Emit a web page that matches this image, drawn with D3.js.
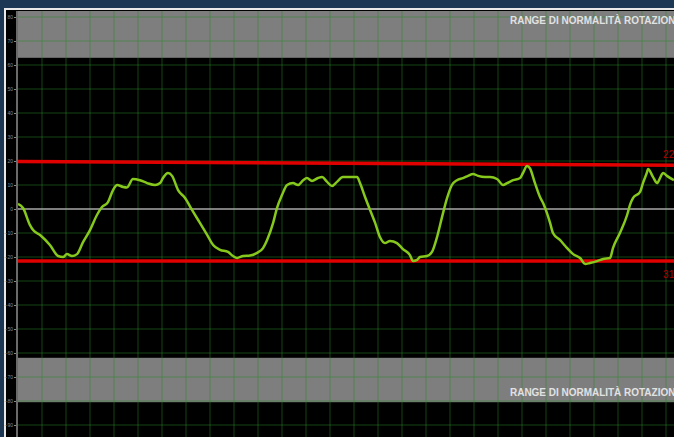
<!DOCTYPE html>
<html>
<head>
<meta charset="utf-8">
<script src="https://cdn.jsdelivr.net/npm/d3@7"></script>
<style>
  html,body{margin:0;padding:0;background:#1b3754;overflow:hidden}
  svg{display:block}
</style>
</head>
<body>
<div class="chart"></div>
<script>
// time in seconds (one grid square = 1 s), rotation in degrees
const timeSec = [0,0.21,0.5,0.63,0.92,1.33,1.67,1.88,2.04,2.25,2.46,2.71,3.0,3.29,3.5,3.75,3.96,4.13,4.38,4.54,4.79,5.08,5.38,5.71,5.92,6.04,6.25,6.42,6.67,6.96,7.25,7.58,7.88,8.13,8.42,8.75,8.96,9.13,9.38,9.67,9.96,10.21,10.38,10.63,10.79,11.0,11.21,11.46,11.67,11.88,12.04,12.25,12.5,12.67,12.88,13.08,13.29,13.54,13.83,14.13,14.25,14.46,14.67,14.88,15.08,15.29,15.5,15.79,16.04,16.33,16.46,16.63,16.75,17.04,17.25,17.46,17.67,17.88,18.08,18.29,18.54,18.75,18.96,19.17,19.46,19.67,19.96,20.21,20.38,20.63,20.92,21.04,21.21,21.33,21.54,21.75,21.88,22.04,22.17,22.29,22.58,22.88,23.13,23.42,23.63,23.83,24.13,24.38,24.67,24.79,25.08,25.38,25.5,25.63,25.92,26.04,26.21,26.25,26.46,26.63,26.75,26.88,27.04,27.33]
const rotation = [2.1,0.4,-6.7,-8.8,-10.8,-15,-19.6,-20,-18.8,-19.6,-18.8,-13.8,-8.8,-2.5,0.8,2.9,7.9,10,9.2,9,12.5,12,10.8,10,10.8,12.9,15,13.8,7.9,4.6,-0.4,-5.8,-10.8,-15,-17,-17.9,-19.6,-20.4,-19.6,-19.4,-18.3,-16.3,-12.9,-5.8,0.4,5.8,10,10.8,10,12,12.9,11.7,12.9,13.3,11.3,9.6,11.3,13.3,13.3,13.3,10.8,5,-0.4,-5.8,-11.7,-14.2,-13.3,-14.2,-16.7,-19.2,-21.7,-21.2,-20,-19.6,-17.9,-11.7,-3.3,4.6,10,12,12.9,13.8,14.6,13.8,13.3,13.3,12.5,10,10.8,12,12.9,15,17.9,17,10.8,5,2.5,-1.7,-5.8,-10,-12.9,-16.3,-18.8,-20.4,-22.9,-22.5,-21.7,-20.8,-20.4,-16.3,-10,-2.5,1.7,4.6,7.1,10.8,15.4,16.7,13.3,10.8,12.9,15,13.8,12]

const yTicks = [80,70,60,50,40,30,20,10,0,-10,-20,-30,-40,-50,-60,-70,-80,-90]
const upperLimit = [[0,19.8],[28,18.2]]
const lowerLimit = [[0,-21.7],[28,-21.7]]
const limitLabels = ["22","31"]
const bands = [[63,82.5],[-80.5,-62]]
const bandLabel = "RANGE DI NORMALITÀ ROTAZIONE"

const w = 674
const h = 437
const plotLeft = 18
const plotTop = 11

const xScale = d3.scaleLinear().domain([0,28]).range([plotLeft,plotLeft+28*24])
const yScale = d3.scaleLinear().domain([-90,80]).range([425,17])

const svg = d3.select(".chart").append("svg").attr("width",w).attr("height",h)

svg.append("rect").attr("width",w).attr("height",h).attr("fill","#1b3754")
svg.append("rect").attr("x",4).attr("y",8).attr("width",w).attr("height",h).attr("fill","#e8e8e8")
svg.append("rect").attr("x",6).attr("y",10).attr("width",w).attr("height",h).attr("fill","#000")

svg.append("clipPath").attr("id","plot")
  .append("rect").attr("x",plotLeft).attr("y",plotTop).attr("width",w).attr("height",h)

const plot = svg.append("g").attr("clip-path","url(#plot)")

// grey normality bands
plot.selectAll("rect.band")
  .data(bands)
  .enter()
  .append("rect")
  .attr("class","band")
  .attr("x",plotLeft)
  .attr("width",w)
  .attr("y",d=>yScale(d[1]))
  .attr("height",d=>yScale(d[0])-yScale(d[1]))
  .attr("fill","#7e7e7e")

// grid
plot.selectAll("line.vgrid")
  .data(d3.range(1,29))
  .enter()
  .append("line")
  .attr("x1",d=>xScale(d)).attr("x2",d=>xScale(d))
  .attr("y1",plotTop).attr("y2",h)
  .attr("stroke","#2a8a2a").attr("stroke-opacity",0.5).attr("stroke-width",1)

plot.selectAll("line.hgrid")
  .data(yTicks.filter(d=>d!==0))
  .enter()
  .append("line")
  .attr("x1",plotLeft).attr("x2",w)
  .attr("y1",d=>yScale(d)).attr("y2",d=>yScale(d))
  .attr("stroke","#2a8a2a").attr("stroke-opacity",0.5).attr("stroke-width",1)

plot.append("line")
  .attr("x1",plotLeft).attr("x2",w)
  .attr("y1",yScale(0)).attr("y2",yScale(0))
  .attr("stroke","#a8a8a8").attr("stroke-width",1.5)

// band labels (cut by the right edge, as in the source screen)
plot.selectAll("text.band")
  .data([bands[0][1]-5.4, bands[1][0]+2.4])
  .enter()
  .append("text")
  .attr("x",xScale(20.5))
  .attr("y",d=>yScale(d))
  .attr("fill","#e2e2e2")
  .attr("font-family","'Liberation Sans',sans-serif")
  .attr("font-weight","bold")
  .attr("font-size","10px")
  .attr("textLength",172)
  .attr("lengthAdjust","spacingAndGlyphs")
  .text(bandLabel)

// limits
const limitLine = d3.line().x(d=>xScale(d[0])).y(d=>yScale(d[1]))
plot.selectAll("path.limit")
  .data([upperLimit,lowerLimit])
  .enter()
  .append("path")
  .attr("d",limitLine)
  .attr("fill","none")
  .attr("stroke","#e10000")
  .attr("stroke-width",3.5)

plot.selectAll("text.limit")
  .data([[upperLimit[1][1]+3],[lowerLimit[1][1]-7]])
  .enter()
  .append("text")
  .attr("x",xScale(26.88))
  .attr("y",d=>yScale(d[0]))
  .attr("fill","#b00000")
  .attr("font-family","'Liberation Sans',sans-serif")
  .attr("font-size","10px")
  .text((d,i)=>limitLabels[i])

// signal
const data = timeSec.map((t,i)=>[t,rotation[i]])
const signal = d3.line().x(d=>xScale(d[0])).y(d=>yScale(d[1])).curve(d3.curveMonotoneX)
plot.append("path")
  .datum(data)
  .attr("d",signal)
  .attr("fill","none")
  .attr("stroke","#86c81c")
  .attr("stroke-width",2.5)
  .attr("stroke-linejoin","round")

// left axis
const yAxis = d3.axisLeft(yScale).tickValues(yTicks).tickSize(3).tickPadding(1)
const axis = svg.append("g").attr("transform",`translate(${plotLeft-1},0)`).call(yAxis)
axis.select(".domain").remove()
axis.append("line").attr("y1",plotTop).attr("y2",h).attr("stroke","#6a6a6a").attr("stroke-width",2)
axis.selectAll(".tick line").attr("stroke","#888")
axis.selectAll(".tick text").attr("fill","#8a8a8a").attr("font-size","5px").attr("font-family","'Liberation Sans',sans-serif")
</script>
</body>
</html>
